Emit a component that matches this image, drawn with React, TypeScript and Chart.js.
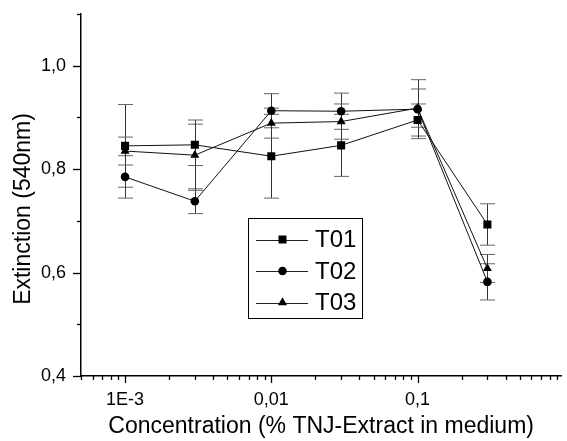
import React, { useEffect, useRef } from 'react';
import { Chart, registerables } from 'chart.js';

Chart.register(...registerables);

// ---- data ----
const concentrations = [0.001, 0.003, 0.01, 0.03, 0.1, 0.3];
const seriesNames = ['T01', 'T02', 'T03'];
const t01 = [0.845, 0.847, 0.825, 0.846, 0.895, 0.693];
const t01Err = [0.08, 0.04, 0.081, 0.06, 0.031, 0.04];
const t02 = [0.785, 0.738, 0.913, 0.912, 0.916, 0.582];
const t02Err = [0.041, 0.024, 0.033, 0.035, 0.057, 0.035];
const t03 = [0.835, 0.827, 0.889, 0.892, 0.918, 0.608];
const t03Err = [0.027, 0.068, 0.029, 0.034, 0.037, 0.027];

const xMajorTicks = [0.001, 0.01, 0.1];
const xMajorLabels = ['1E-3', '0,01', '0,1'];
const xMinorMultipliers = [2, 3, 4, 5, 6, 7, 8, 9];
const xDecades = [0.0001, 0.001, 0.01, 0.1];
const yTickValues = [0.4, 0.5, 0.6, 0.7, 0.8, 0.9, 1.0, 1.1];
const yMajorTicks = [0.4, 0.6, 0.8, 1.0];
const yMajorLabels = ['0,4', '0,6', '0,8', '1,0'];

const xMin = 0.0005;
const xMax = 0.96;
const yMin = 0.4;
const yMax = 1.1;

const xTitle = 'Concentration (% TNJ-Extract in medium)';
const yTitle = 'Extinction (540nm)';

const FONT = '"Liberation Sans", Arial, sans-serif';
const values = [t01, t02, t03];
const errors = [t01Err, t02Err, t03Err];
const shapes = ['rect', 'circle', 'triangle'];
const radii = [5.7, 4.3, 5.2];

const near = (a: number, b: number) => Math.abs(a - b) < Math.abs(b) * 1e-6 + 1e-9;

function buildXTicks() {
  const out: number[] = [];
  xDecades.forEach((d) => {
    out.push(d);
    xMinorMultipliers.forEach((m) => out.push(Number((m * d).toPrecision(3))));
  });
  return out.filter((v) => v >= xMin * 0.999 && v <= xMax);
}

function drawMarker(ctx: CanvasRenderingContext2D, shape: string, cx: number, cy: number) {
  ctx.beginPath();
  if (shape === 'rect') {
    ctx.rect(cx - 4, cy - 4, 8, 8);
  } else if (shape === 'circle') {
    ctx.arc(cx, cy, 4.3, 0, Math.PI * 2);
  } else {
    ctx.moveTo(cx, cy - 5.2);
    ctx.lineTo(cx + 4.6, cy + 2.7);
    ctx.lineTo(cx - 4.6, cy + 2.7);
    ctx.closePath();
  }
  ctx.fill();
}

const errorBarPlugin = {
  id: 'errorBars',
  beforeDatasetsDraw(chart: any) {
    const ctx = chart.ctx as CanvasRenderingContext2D;
    const ys = chart.scales.y;
    ctx.save();
    errors.forEach((errs, i) => {
      const meta = chart.getDatasetMeta(i);
      meta.data.forEach((pt: any, j: number) => {
        const v = values[i][j];
        const x = Math.round(pt.x) + 0.5;
        const top = ys.getPixelForValue(v + errs[j]);
        const bot = ys.getPixelForValue(v - errs[j]);
        ctx.lineWidth = 1;
        ctx.strokeStyle = '#333';
        ctx.beginPath();
        ctx.moveTo(x, top);
        ctx.lineTo(x, bot);
        ctx.stroke();
        ctx.strokeStyle = '#666';
        ctx.beginPath();
        ctx.moveTo(x - 7.5, top);
        ctx.lineTo(x + 7.5, top);
        ctx.moveTo(x - 7.5, bot);
        ctx.lineTo(x + 7.5, bot);
        ctx.stroke();
      });
    });
    ctx.restore();
  },
};

const decorPlugin = {
  id: 'decor',
  afterDraw(chart: any) {
    const ctx = chart.ctx as CanvasRenderingContext2D;
    const xs = chart.scales.x;
    const ys = chart.scales.y;
    const area = chart.chartArea;
    ctx.save();
    ctx.strokeStyle = '#000';
    ctx.lineWidth = 1.3;
    // x tick marks
    xs.ticks.forEach((t: any) => {
      const major = xMajorTicks.some((m) => near(t.value, m));
      const px = Math.round(xs.getPixelForValue(t.value)) + 0.5;
      ctx.beginPath();
      ctx.moveTo(px, area.bottom);
      ctx.lineTo(px, area.bottom + (major ? 7 : 4));
      ctx.stroke();
    });
    // y tick marks
    ys.ticks.forEach((t: any) => {
      const major = yMajorTicks.some((m) => near(t.value, m));
      const py = Math.round(ys.getPixelForValue(t.value)) + 0.5;
      ctx.beginPath();
      ctx.moveTo(area.left, py);
      ctx.lineTo(area.left - (major ? 8 : 4), py);
      ctx.stroke();
    });

    // y title
    ctx.fillStyle = '#000';
    ctx.font = `23px ${FONT}`;
    ctx.textAlign = 'center';
    ctx.textBaseline = 'middle';
    ctx.save();
    ctx.translate(24, 209);
    ctx.rotate(-Math.PI / 2);
    ctx.fillText(yTitle, 0, 0);
    ctx.restore();

    // legend
    const bx = 248.5;
    const by = 218.5;
    const bw = 114;
    const bh = 100;
    ctx.fillStyle = '#fff';
    ctx.fillRect(bx, by, bw, bh);
    ctx.lineWidth = 1;
    ctx.strokeStyle = '#000';
    ctx.strokeRect(bx, by, bw, bh);
    const rows = [239.5, 271, 302.5];
    seriesNames.forEach((name, i) => {
      const cy = rows[i];
      ctx.strokeStyle = '#222';
      ctx.lineWidth = 1;
      ctx.beginPath();
      ctx.moveTo(256, Math.round(cy) + 0.5);
      ctx.lineTo(308, Math.round(cy) + 0.5);
      ctx.stroke();
      ctx.fillStyle = '#000';
      drawMarker(ctx, shapes[i], 282.5, cy);
      ctx.font = `24px ${FONT}`;
      ctx.textAlign = 'left';
      ctx.textBaseline = 'middle';
      ctx.fillText(name, 315, cy + 1);
    });
    ctx.restore();
  },
};

export default function App() {
  const canvasRef = useRef<HTMLCanvasElement | null>(null);

  useEffect(() => {
    if (!canvasRef.current) return;
    const xTickList = buildXTicks();
    const chart = new Chart(canvasRef.current, {
      type: 'line',
      data: {
        datasets: seriesNames.map((name, i) => ({
          label: name,
          data: concentrations.map((c, j) => ({ x: c, y: values[i][j] })),
          borderColor: '#111',
          borderWidth: 1,
          backgroundColor: '#000',
          pointStyle: shapes[i] as any,
          pointRadius: radii[i],
          pointBackgroundColor: '#000',
          pointBorderColor: '#000',
          pointBorderWidth: 0,
          fill: false,
          tension: 0,
        })),
      },
      options: {
        responsive: false,
        animation: false,
        events: [],
        layout: { padding: { top: 14, right: 0, left: 0, bottom: 0 } },
        plugins: {
          legend: { display: false },
          tooltip: { enabled: false },
        },
        scales: {
          x: {
            type: 'logarithmic',
            position: 'bottom',
            min: xMin,
            max: xMax,
            afterBuildTicks: (scale: any) => {
              scale.ticks = xTickList.map((v) => ({ value: v }));
            },
            afterFit: (scale: any) => {
              scale.height = 65;
              scale.paddingLeft = 0;
              scale.paddingRight = 0;
            },
            grid: { display: false },
            border: { display: true, color: '#000', width: 1.5 },
            ticks: {
              autoSkip: false,
              maxRotation: 0,
              minRotation: 0,
              padding: 5,
              color: '#000',
              font: { family: FONT, size: 18 },
              callback: (value: any) => {
                const idx = xMajorTicks.findIndex((m) => near(Number(value), m));
                return idx >= 0 ? xMajorLabels[idx] : '';
              },
            },
            title: {
              display: true,
              text: xTitle,
              color: '#000',
              font: { family: FONT, size: 23 },
              padding: { top: 0, bottom: 1 },
            },
          },
          y: {
            type: 'linear',
            min: yMin,
            max: yMax,
            afterBuildTicks: (scale: any) => {
              scale.ticks = yTickValues.map((v) => ({ value: v }));
            },
            afterFit: (scale: any) => {
              scale.width = 81;
              scale.paddingTop = 0;
              scale.paddingBottom = 0;
            },
            grid: { display: false },
            border: { display: true, color: '#000', width: 1.5 },
            ticks: {
              autoSkip: false,
              padding: 7,
              color: '#000',
              font: { family: FONT, size: 18 },
              callback: (value: any) => {
                const idx = yMajorTicks.findIndex((m) => near(Number(value), m));
                return idx >= 0 ? yMajorLabels[idx] : '';
              },
            },
          },
        },
      },
      plugins: [errorBarPlugin, decorPlugin],
    });
    return () => chart.destroy();
  }, []);

  return (
    <div style={{ position: 'fixed', left: 0, top: 0, width: 567, height: 441, background: '#fff' }}>
      <canvas ref={canvasRef} width={567} height={441} />
    </div>
  );
}
